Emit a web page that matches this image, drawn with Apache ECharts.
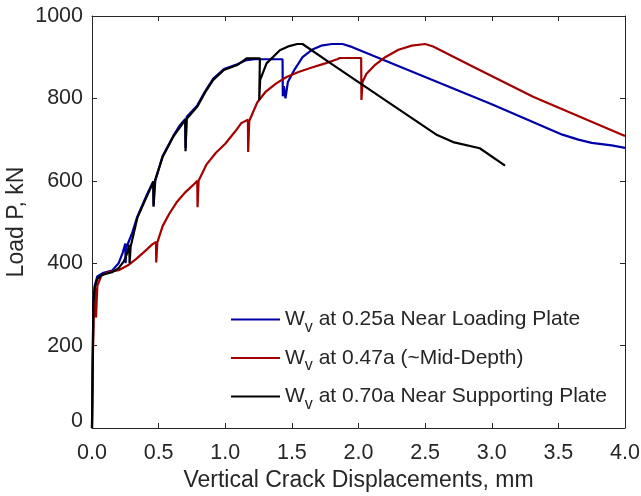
<!DOCTYPE html>
<html><head><meta charset="utf-8">
<script src="https://cdn.jsdelivr.net/npm/echarts@6/dist/echarts.min.js"></script>
<style>html,body{margin:0;padding:0;background:#fff}#c{width:641px;height:496px}</style>
</head><body><div id="c"></div>
<script>
const xTicks = [0, 0.5, 1.0, 1.5, 2.0, 2.5, 3.0, 3.5, 4.0];
const yTicks = [0, 200, 400, 600, 800, 1000];
const seriesNames = ['at 0.25a Near Loading Plate', 'at 0.47a (~Mid-Depth)', 'at 0.70a Near Supporting Plate'];

const blueX = [0, 0.005, 0.01, 0.02, 0.04, 0.08, 0.15, 0.20, 0.23, 0.25, 0.252, 0.26, 0.30, 0.34, 0.41, 0.45, 0.46, 0.462, 0.475, 0.53, 0.61, 0.66, 0.70, 0.702, 0.71, 0.79, 0.85, 0.91, 0.99, 1.09, 1.16, 1.22, 1.43, 1.432, 1.44, 1.45, 1.452, 1.47, 1.52, 1.58, 1.65, 1.72, 1.80, 1.88, 1.95, 2.5, 3.0, 3.53, 3.65, 3.75, 3.9, 4.0];
const blueY = [0, 150, 300, 345, 368, 376, 382, 400, 425, 448, 400, 440, 472, 513, 565, 592, 598, 540, 600, 660, 709, 735, 750, 680, 755, 783, 818, 848, 871, 883, 893, 895, 895, 805, 830, 830, 800, 840, 870, 900, 918, 928, 932, 932, 925, 852, 786, 712, 700, 692, 686, 680];

const redX = [0, 0.005, 0.015, 0.02, 0.025, 0.03, 0.04, 0.07, 0.12, 0.20, 0.27, 0.33, 0.40, 0.45, 0.48, 0.482, 0.49, 0.53, 0.58, 0.64, 0.70, 0.76, 0.79, 0.792, 0.80, 0.86, 0.93, 1.00, 1.08, 1.12, 1.17, 1.172, 1.18, 1.24, 1.30, 1.38, 1.46, 1.55, 1.65, 1.75, 1.84, 1.86, 2.02, 2.022, 2.03, 2.06, 2.12, 2.20, 2.30, 2.40, 2.50, 2.56, 2.86, 3.31, 4.0];
const redY = [0, 150, 300, 330, 340, 268, 345, 370, 378, 383, 395, 410, 430, 445, 452, 402, 450, 490, 520, 550, 572, 590, 600, 536, 600, 640, 668, 690, 722, 740, 748, 670, 745, 790, 815, 836, 852, 864, 875, 885, 895, 898, 898, 796, 840, 860, 880, 900, 918, 928, 932, 926, 877, 804, 709];

const blackX = [0, 0.005, 0.01, 0.02, 0.04, 0.08, 0.15, 0.20, 0.24, 0.27, 0.28, 0.282, 0.29, 0.34, 0.41, 0.46, 0.462, 0.47, 0.53, 0.61, 0.70, 0.702, 0.71, 0.79, 0.85, 0.91, 0.99, 1.09, 1.16, 1.26, 1.255, 1.262, 1.31, 1.41, 1.48, 1.54, 1.58, 1.80, 2.20, 2.59, 2.71, 2.91, 3.10];
const blackY = [0, 150, 300, 340, 362, 372, 378, 388, 405, 430, 445, 400, 440, 510, 561, 597, 537, 598, 658, 707, 748, 672, 750, 780, 815, 845, 869, 881, 897, 897, 796, 845, 885, 917, 927, 932, 932, 883, 796, 711, 694, 679, 637];

const colors = ['#0000a8', '#a50000', '#000000'];
const zip = (xs, ys) => xs.map((x, i) => [x, ys[i]]);
const font = 'Liberation Sans, Arial, Helvetica, sans-serif';
const txt = '#262626';

const chart = echarts.init(document.getElementById('c'), null, {renderer: 'canvas'});
const axisCommon = {
  axisLine: {show: true, onZero: false, lineStyle: {color: txt, width: 1}},
  axisTick: {show: true, inside: true, length: 5, lineStyle: {color: txt}},
  splitLine: {show: false}
};
const mk = (name, data, color) => ({
  name: name, type: 'line', data: data, symbol: 'none', showSymbol: false,
  lineStyle: {color: color, width: 2.2}, itemStyle: {color: color}, animation: false
});
chart.setOption({
  animation: false,
  grid: {left: 92, right: 16, top: 16, bottom: 68, containLabel: false, outerBoundsMode: 'none'},
  xAxis: [
    Object.assign({type: 'value', min: 0, max: 4, interval: 0.5, position: 'bottom',
      name: 'Vertical Crack Displacements, mm', nameLocation: 'middle', nameGap: 41, nameMoveOverlap: false,
      nameTextStyle: {fontFamily: font, fontSize: 23, color: txt},
      axisLabel: {fontFamily: font, fontSize: 21.5, color: txt, margin: 14, formatter: v => v.toFixed(1)}}, axisCommon),
    Object.assign({type: 'value', min: 0, max: 4, interval: 0.5, position: 'top', axisLabel: {show: false}}, axisCommon)
  ],
  yAxis: [
    Object.assign({type: 'value', min: 0, max: 1000, interval: 200, position: 'left',
      name: 'Load P, kN', nameLocation: 'middle', nameGap: 64, nameMoveOverlap: false,
      nameTextStyle: {fontFamily: font, fontSize: 23, color: txt},
      axisLabel: {fontFamily: font, fontSize: 21.5, color: txt, margin: 9,
        formatter: v => v === 0 ? '{z|0}' : String(v),
        rich: {z: {fontFamily: font, fontSize: 21.5, color: txt, padding: [0, 0, 14, 0]}}}}, axisCommon),
    Object.assign({type: 'value', min: 0, max: 1000, interval: 200, position: 'right', axisLabel: {show: false}}, axisCommon)
  ],
  legend: {
    orient: 'vertical', left: 226, top: 304, itemWidth: 49, itemHeight: 2, itemGap: 12,
    icon: 'rect',
    data: seriesNames,
    formatter: n => '{w|W}{s|v}{w| ' + n + '}',
    textStyle: {
      fontFamily: font, fontSize: 21, color: txt,
      rich: {
        w: {fontFamily: font, fontSize: 21, color: txt},
        s: {fontFamily: font, fontSize: 16, color: txt, padding: [16, 0, 0, 0]}
      }
    }
  },
  series: [
    mk(seriesNames[0], zip(blueX, blueY), colors[0]),
    mk(seriesNames[1], zip(redX, redY), colors[1]),
    mk(seriesNames[2], zip(blackX, blackY), colors[2])
  ]
});
</script></body></html>
